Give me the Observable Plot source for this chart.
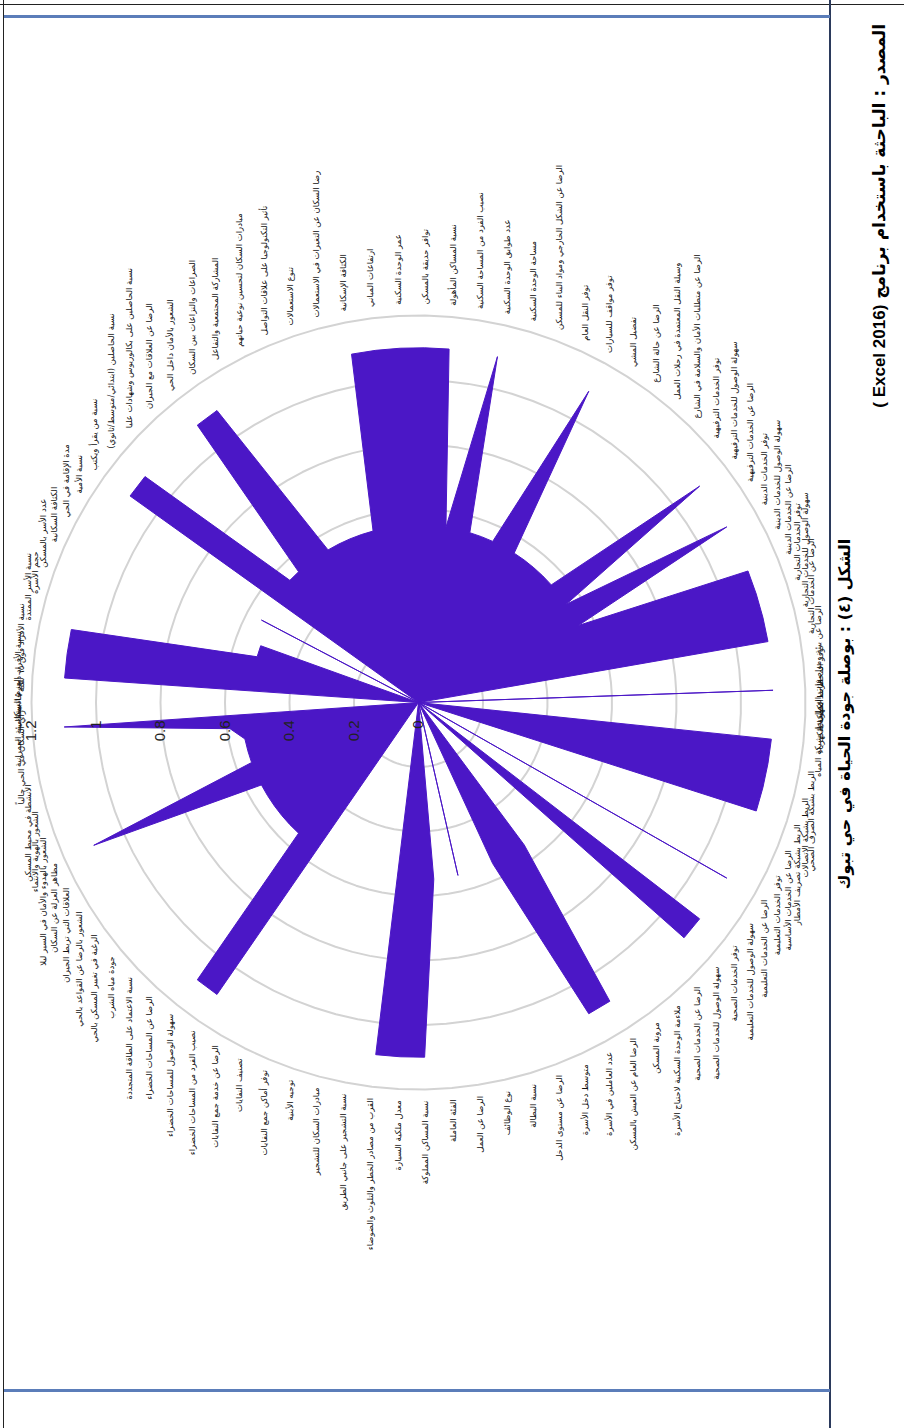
<!DOCTYPE html>
<html><head><meta charset="utf-8">
<script src="https://cdn.jsdelivr.net/npm/d3@7"></script>
<script src="https://cdn.jsdelivr.net/npm/@observablehq/plot@0.6"></script>
<style>
html,body{margin:0;padding:0;background:#fff;}
body{width:904px;height:1428px;overflow:hidden;position:relative;}
#page{position:absolute;left:0;top:0;width:1428px;height:904px;transform-origin:0 0;transform:translate(0,1428px) rotate(-90deg);background:#fff;}
.ln{position:absolute;}
#chart{position:absolute;left:37px;top:6px;width:1374px;height:822px;}
#caption{position:absolute;left:0;width:1428px;top:835px;text-align:center;direction:rtl;font:bold 16px "DejaVu Sans",sans-serif;color:#000;}
#source{position:absolute;right:24px;top:869px;direction:rtl;font:bold 17px "DejaVu Sans",sans-serif;color:#000;white-space:nowrap;}
#source .en{font-family:"Liberation Sans",Arial,sans-serif;}
</style></head>
<body>
<div id="page">
  <div class="ln" style="left:0;top:3px;width:1428px;border-top:1.5px solid #222;"></div>
  <div class="ln" style="left:1423px;top:0;height:904px;border-left:1.5px solid #222;"></div>
  <div class="ln" style="left:0;top:829px;width:1428px;border-top:2px solid #2b3a5c;"></div>
  <div class="ln" style="left:36px;top:4px;height:826px;border-left:3px solid #5b7db9;"></div>
  <div class="ln" style="left:1410px;top:4px;height:826px;border-left:3px solid #5b7db9;"></div>
  <div id="chart"></div>
  <div id="caption">الشكل (٤) : بوصلة جودة الحياة في حي تبوك</div>
  <div id="source">المصدر : الباحثة باستخدام برنامج <span class="en">(Excel 2016 )</span></div>
</div>
<script>
const categories = [
"الهرم السكاني","نسبة الأفراد دون ١٥ سنة","نسبة الأفراد فوق ٦٥ سنة","نسبة الأسر الممتدة","حجم الأسرة",
"عدد الأسر بالمسكن","الكثافة السكانية","مدة الإقامة في الحي","نسبة الأمية","نسبة من يقرأ ويكتب",
"نسبة الحاصلين (ابتدائي/متوسط/ثانوي)","نسبة الحاصلين على بكالوريوس وشهادات عليا","الرضا عن العلاقات مع الجيران","الشعور بالأمان داخل الحي","الصراعات والنزاعات بين السكان",
"المشاركة المجتمعية والتفاعل","مبادرات السكان لتحسين نوعية حياتهم","تأثير التكنولوجيا على علاقات التواصل","تنوع الاستعمالات","رضا السكان عن التغيرات في الاستعمالات",
"الكثافة الإسكانية","ارتفاعات المباني","عمر الوحدة السكنية","توافر حديقة بالمسكن","نسبة المساكن المأهولة",
"نصيب الفرد من المساحة السكنية","عدد طوابق الوحدة السكنية","مساحة الوحدة السكنية","الرضا عن الشكل الخارجي ومواد البناء للمسكن","توفر النقل العام",
"توفر مواقف للسيارات","تفضيل المشي","الرضا عن حالة الشارع","وسيلة النقل المعتمدة في رحلات العمل","الرضا عن متطلبات الأمان والسلامة في الشارع",
"توفر الخدمات الترفيهية","سهولة الوصول للخدمات الترفيهية","الرضا عن الخدمات الترفيهية","توفر الخدمات الدينية","سهولة الوصول للخدمات الدينية",
"الرضا عن الخدمات الدينية","توفر الخدمات التجارية","سهولة الوصول للخدمات التجارية","الرضا عن الخدمات التجارية","الرضا عن بيئة ومواصفات العمل",
"توفر المحطات الكهربائية","الربط بشبكة الكهرباء","الربط بشبكة المياه","الربط بشبكة الصرف الصحي","الربط بشبكة الاتصالات",
"الربط بشبكة تصريف الأمطار","الرضا عن الخدمات الأساسية","توفر الخدمات التعليمية","الرضا عن الخدمات التعليمية","سهولة الوصول للخدمات التعليمية",
"توفر الخدمات الصحية","سهولة الوصول للخدمات الصحية","الرضا عن الخدمات الصحية","ملاءمة الوحدة السكنية لاحتياج الأسرة","مرونة المسكن",
"الرضا العام عن العيش بالمسكن","عدد العاملين في الأسرة","متوسط دخل الأسرة","الرضا عن مستوى الدخل","نسبة البطالة",
"نوع الوظائف","الرضا عن العمل","الفئة العاملة","نسبة المساكن المملوكة","معدل ملكية السيارة",
"القرب من مصادر الخطر والتلوث والضوضاء","نسبة التشجير على جانبي الطريق","مبادرات السكان للتشجير","توجيه الأبنية","توفر أماكن جمع النفايات",
"تصنيف النفايات","الرضا عن خدمة جمع النفايات","نصيب الفرد من المساحات الخضراء","سهولة الوصول للمساحات الخضراء","الرضا عن المساحات الخضراء",
"نسبة الاعتماد على الطاقة المتجددة","جودة مياه الشرب","الرغبة في تغيير المسكن بالحي","الشعور بالرضا عن القواعد بالحي","العلاقات التي تربط الجيران",
"مظاهر العزلة عن السكان","الشعور بالهدوء والأمان في السير ليلا","الشعور بالهوية والانتماء","الأنشطة في محيط المسكن","رأي السكان في الحي حالياً",
"جاذبية البيئة العمرانية"
];
const values = [
0,1.1,1.1,1.1,0.52, 0.52,0,0.55,0,1.1,
1.1,0.55,0.55,1.1,1.1, 0.55,0.55,0.55,0.55,0.55,
1.1,1.1,1.1,1.1,1.1, 0.55,1.1,0.55,0.55,0.55,
1.1,0.55,0.55,0.55,0.55, 0.55,1.1,0.55,1.1,0.55,
1.1,1.1,1.1,1.1,0, 1.1,0,1.1,1.1,1.1,
1.1,0,0,1.1,0, 1.1,1.1,0,0,0.55,
1.1,1.1,0.55,0,0, 0.55,0,0.55,1.1,1.1,
1.1,0,0,0,0, 0,0,1.1,1.1,0.55,
0.55,0.55,0.55,0.55,0.55, 1.1,0.55,0.55,0.55,0.59,
1.1
];
const ticks = [0,0.2,0.4,0.6,0.8,1,1.2];

const N = categories.length;
const W = 1374, H = 822, CX = 688, CY = 412, K = 322.5;
const ang = i => 2*Math.PI*i/N;
const px = (v,i) => v*Math.sin(ang(i));
const py = (v,i) => v*Math.cos(ang(i));

const poly = values.map((v,i)=>({v,i}));
const rings = ticks.filter(t=>t>0).flatMap(t => d3.range(N).map(i=>({t,i})));
const LR = 1.235;
const lab = categories.map((c,i)=>{
  const deg = 360*i/N;
  let g = "left";
  if (deg <= 9 || deg >= 351) g = "top";
  else if (Math.abs(deg-180) <= 9) g = "bottom";
  else if (deg < 180) g = "right";
  return {c,i,g};
});
const labFont = {fontSize: 8.5, fill:"#111", fontFamily:"DejaVu Sans, sans-serif"};

const plot = Plot.plot({
  width: W, height: H, margin: 0,
  x: {domain: [-CX/K, (W-CX)/K], axis: null},
  y: {domain: [-(H-CY)/K, CY/K], axis: null},
  style: {background: "transparent"},
  marks: [
    Plot.line(rings, {x: d=>px(d.t,d.i), y: d=>py(d.t,d.i), z: "t", stroke: "#d3d3d3", strokeWidth: 2, curve: "linear-closed"}),
    Plot.line(poly, {x: d=>px(d.v,d.i), y: d=>py(d.v,d.i), fill: "#4b17c6", stroke: "#4b17c6", strokeWidth: 1, curve: "linear-closed"}),
    Plot.text(ticks, {x: 0, y: d=>d, text: d=>String(d), textAnchor: "end", dx: -18, fontSize: 15, fill: "#222", fontFamily: "Liberation Sans, Arial, sans-serif"}),
    Plot.text(lab.filter(d=>d.g==="top"), {x: d=>px(LR,d.i), y: d=>py(LR,d.i), text: "c", textAnchor: "middle", lineAnchor: "bottom", ...labFont}),
    Plot.text(lab.filter(d=>d.g==="bottom"), {x: d=>px(LR,d.i), y: d=>py(LR,d.i), text: "c", textAnchor: "middle", lineAnchor: "top", ...labFont}),
    Plot.text(lab.filter(d=>d.g==="right"), {x: d=>px(LR,d.i), y: d=>py(LR,d.i), text: "c", textAnchor: "start", lineAnchor: "middle", ...labFont}),
    Plot.text(lab.filter(d=>d.g==="left"), {x: d=>px(LR,d.i), y: d=>py(LR,d.i), text: "c", textAnchor: "end", lineAnchor: "middle", ...labFont})
  ]
});
document.getElementById("chart").appendChild(plot);
</script>
</body></html>
